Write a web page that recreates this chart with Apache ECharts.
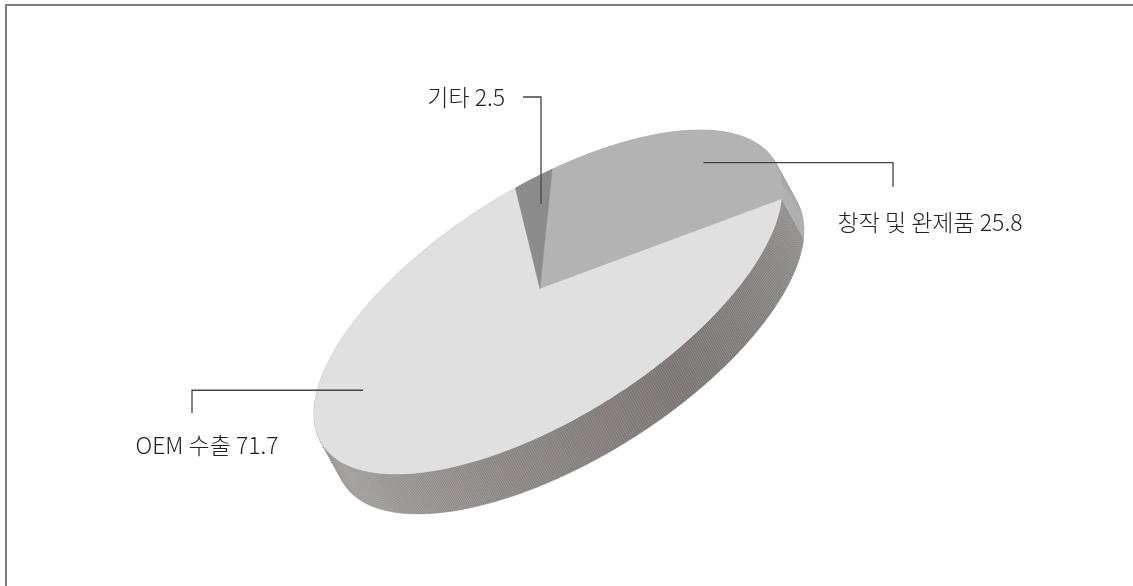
<!DOCTYPE html>
<html>
<head>
<meta charset="utf-8">
<script src="https://cdn.jsdelivr.net/npm/echarts@6/dist/echarts.min.js"></script>
<style>
  html, body { margin: 0; padding: 0; background: #fff; }
  #chart { width: 1133px; height: 586px; }
</style>
</head>
<body>
<div id="chart"></div>
<script>
// Shares by category (%)
const categories = ['창작 및 완제품', 'OEM 수출', '기타'];
const values = [25.8, 71.7, 2.5];

// Tilted disc: rim(t) = centre + u*cos t + v*sin t, slices meet at apex
const disc = {
  cx: 548, cy: 302,
  u: [234, -111.7],
  v: [0, -130.8],
  apex: [540, 289],
  depth: [22, 40],
  start: 89
};
const topColors = ['#b3b3b3', '#e0e0e0', '#8c8c8c'];
// side shading along the rim angle (degrees, 0..360)
const sideStops = {
  0: [[0, '#a9a9a9'], [360, '#a9a9a9']],
  1: [[150, '#a3a09e'], [200, '#9f9b99'], [240, '#928d8b'], [300, '#7a7574'], [335, '#858181'], [360, '#8e8a8a']],
  2: [[0, '#888'], [360, '#888']]
};
// leader layout: anchor in disc coords [angle, radius], elbow x, drop to y, text position
const labelLayout = [
  { anchor: [36.9, 0.83], elbowX: 893, dropY: 187, text: [930, 222], align: 'center' },
  { anchor: [180, 0.79], elbowX: 192, dropY: 413, text: [207, 445], align: 'center' },
  { anchor: [92.2, 0.776], elbowX: 541, riseY: 97, endX: 523, text: [505, 97], align: 'right' }
];

const rad = d => d * Math.PI / 180;
function rim(t, r) {
  r = r == null ? 1 : r;
  const c = Math.cos(rad(t)), s = Math.sin(rad(t));
  return [disc.cx + r * (disc.u[0] * c + disc.v[0] * s),
          disc.cy + r * (disc.u[1] * c + disc.v[1] * s)];
}
function hexToRgb(h) {
  h = h.replace('#', '');
  if (h.length === 3) h = h.split('').map(c => c + c).join('');
  return [0, 2, 4].map(i => parseInt(h.substr(i, 2), 16));
}
function shade(i, t) {
  t = ((t % 360) + 360) % 360;
  const st = sideStops[i];
  if (t <= st[0][0]) return st[0][1];
  for (let k = 1; k < st.length; k++) {
    if (t <= st[k][0]) {
      const f = (t - st[k - 1][0]) / (st[k][0] - st[k - 1][0]);
      const a = hexToRgb(st[k - 1][1]), b = hexToRgb(st[k][1]);
      const c = a.map((x, j) => Math.round(x + (b[j] - x) * f));
      return 'rgb(' + c.join(',') + ')';
    }
  }
  return st[st.length - 1][1];
}

const total = values.reduce((a, b) => a + b, 0);
const spans = [];
(function () {
  let acc = 0;
  values.forEach(v => {
    const a0 = disc.start - acc / total * 360;
    acc += v;
    spans.push([a0, disc.start - acc / total * 360]);
  });
})();

function arc(a0, a1, step) {
  const pts = [];
  const n = Math.max(2, Math.ceil(Math.abs(a1 - a0) / step));
  for (let k = 0; k <= n; k++) pts.push(rim(a0 + (a1 - a0) * k / n));
  return pts;
}

function renderSide(params, api) {
  const i = params.dataIndex;
  const [a0, a1] = spans[i];
  const step = 0.5;
  const n = Math.ceil(Math.abs(a1 - a0) / step);
  const children = [];
  const d = disc.depth;
  for (let k = 0; k < n; k++) {
    const t0 = a0 + (a1 - a0) * k / n, t1 = a0 + (a1 - a0) * (k + 1) / n;
    const p0 = rim(t0), p1 = rim(t1);
    const col = shade(i, (t0 + t1) / 2);
    children.push({
      type: 'polygon',
      shape: { points: [p0, p1, [p1[0] + d[0], p1[1] + d[1]], [p0[0] + d[0], p0[1] + d[1]]] },
      style: { fill: col, stroke: col, lineWidth: 0.3 }
    });
  }
  return { type: 'group', children };
}

function renderTop(params, api) {
  const i = params.dataIndex;
  const [a0, a1] = spans[i];
  const pts = [disc.apex].concat(arc(a0, a1, 0.5));
  return {
    type: 'polygon',
    shape: { points: pts },
    style: { fill: topColors[i], stroke: topColors[i], lineWidth: 0.5 }
  };
}

function renderLabel(params, api) {
  const i = params.dataIndex;
  const L = labelLayout[i];
  const a = rim(L.anchor[0], L.anchor[1]);
  let line;
  if (L.riseY != null) {
    line = [a, [L.elbowX, L.riseY], [L.endX, L.riseY]];
  } else {
    line = [a, [L.elbowX, a[1]], [L.elbowX, L.dropY]];
  }
  return {
    type: 'group',
    children: [
      { type: 'polyline', shape: { points: line },
        style: { stroke: '#444', lineWidth: 1.3, fill: null } },
      { type: 'text',
        style: {
          text: categories[i] + ' ' + api.value(0),
          x: L.text[0], y: L.text[1],
          textAlign: L.align, textVerticalAlign: 'middle',
          fill: '#222',
          font: '300 23px "Noto Sans CJK KR", "Noto Sans", sans-serif'
        } }
    ]
  };
}

const chart = echarts.init(document.getElementById('chart'), null, { renderer: 'canvas' });
chart.setOption({
  animation: false,
  backgroundColor: '#fff',
  graphic: [{
    type: 'polyline',
    shape: { points: [[6, 586], [6, 5], [1133, 5]] },
    style: { stroke: '#7d7d7d', lineWidth: 2, fill: null },
    silent: true
  }],
  series: [
    { type: 'custom', name: 'side', coordinateSystem: 'none', data: values, renderItem: renderSide, silent: true, z: 1 },
    { type: 'custom', name: 'top', coordinateSystem: 'none', data: values, renderItem: renderTop, silent: true, z: 2 },
    { type: 'custom', name: 'labels', coordinateSystem: 'none', data: values, renderItem: renderLabel, silent: true, z: 3 }
  ]
});
</script>
</body>
</html>
